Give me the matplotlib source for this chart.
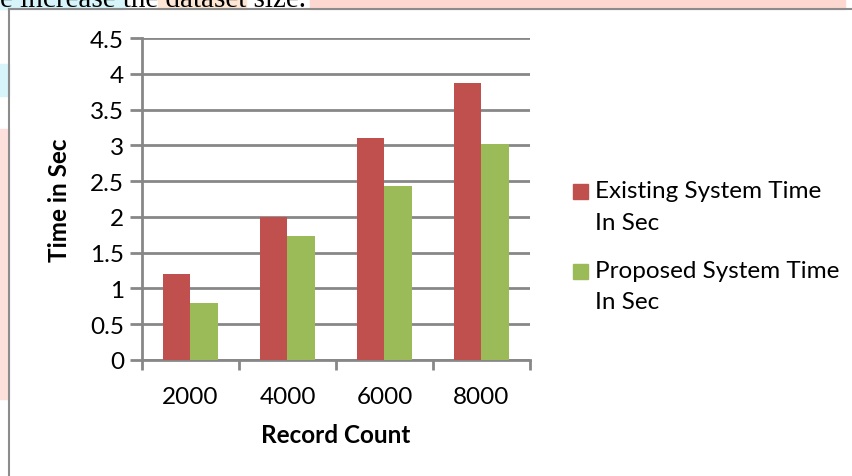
import numpy as np
import matplotlib.pyplot as plt
from matplotlib.patches import Rectangle

# record counts and run times (seconds)
record_counts = ["2000", "4000", "6000", "8000"]
existing_time = [1.2, 2.0, 3.1, 3.87]
proposed_time = [0.8, 1.73, 2.43, 3.02]
series_names = ["Existing System Time\nIn Sec", "Proposed System Time\nIn Sec"]
series_colors = ['#c0504d', '#9bbb59']

plt.rcParams['font.family'] = ['Lato', 'DejaVu Sans']

W, H = 853, 477
fig = plt.figure(figsize=(W / 100, H / 100), dpi=100)

def px(x, y):
    # pixel position (from top left) to figure fraction
    return x / W, 1 - y / H

# faint page colour strips outside the chart frame
for (x0, y0, w, h, c) in [(0, 0, 125, 10, '#d6f4fa'), (158, 0, 88, 10, '#fde6d4'),
                          (310, 0, 535, 10, '#fdd8d1'), (0, 65, 9, 32, '#d6f4fa'),
                          (0, 130, 9, 270, '#fde0dc')]:
    fig.patches.append(Rectangle((x0 / W, 1 - (y0 + h) / H), w / W, h / H,
                                 transform=fig.transFigure, color=c, zorder=0))

# page text running above the chart
fig.text(*px(-21, 7), "we increase the dataset size.", family='Liberation Serif',
         fontsize=21, va='baseline', ha='left', color='black')

# chart frame
fig.add_artist(plt.Line2D([9 / W, 9 / W], [0, 1 - 10 / H], transform=fig.transFigure,
                          color='#8c8c8c', lw=1.5))
fig.add_artist(plt.Line2D([9 / W, 1], [1 - 10 / H, 1 - 10 / H], transform=fig.transFigure,
                          color='#8c8c8c', lw=1.5))

l, b = px(142, 361)
r, t = px(530, 39)
ax = fig.add_axes([l, b, r - l, t - b])
ax.patch.set_alpha(0)

x = np.arange(len(record_counts))
bw = 0.285
ax.bar(x - bw / 2, existing_time, bw, color=series_colors[0], zorder=3)
ax.bar(x + bw / 2, proposed_time, bw, color=series_colors[1], zorder=3)

grid_c = '#878787'
fs = 17.5
ax.set_xlim(-0.5, len(record_counts) - 0.5)
ax.set_ylim(0, 4.5)
ax.set_yticks(np.arange(0, 4.51, 0.5))
ax.set_yticklabels(['0', '0.5', '1', '1.5', '2', '2.5', '3', '3.5', '4', '4.5'])
ax.yaxis.grid(True, color=grid_c, lw=2)
ax.set_axisbelow(True)

ax.set_xticks(np.arange(-0.5, len(record_counts), 1.0))
ax.set_xticklabels([])
ax.set_xticks(x, minor=True)
ax.set_xticklabels(record_counts, minor=True)
ax.tick_params(axis='x', which='major', length=7, width=2, color=grid_c, direction='out')
ax.tick_params(axis='x', which='minor', length=0, pad=19, labelsize=fs)
ax.tick_params(axis='y', length=9, width=2, color=grid_c, labelsize=fs, pad=4)

for s in ['top', 'right']:
    ax.spines[s].set_visible(False)
for s in ['left', 'bottom']:
    ax.spines[s].set_color(grid_c)
    ax.spines[s].set_linewidth(2)

fig.text(*px(60, 200), "Time in Sec", rotation=90, fontsize=fs, fontweight='bold',
         ha='center', va='center')
fig.text(*px(336, 436), "Record Count", fontsize=fs, fontweight='bold',
         ha='center', va='center')

# legend: square key next to the first line of each two-line label
for i, (name, col) in enumerate(zip(series_names, series_colors)):
    yc = 192 + i * 80
    fig.patches.append(Rectangle(px(573, yc + 7.5), 15 / W, 15 / H,
                                 transform=fig.transFigure, color=col))
    for j, line in enumerate(name.split('\n')):
        fig.text(*px(595, yc + j * 31), line, fontsize=fs, ha='left', va='center')

fig.savefig('out.png', dpi=100)
